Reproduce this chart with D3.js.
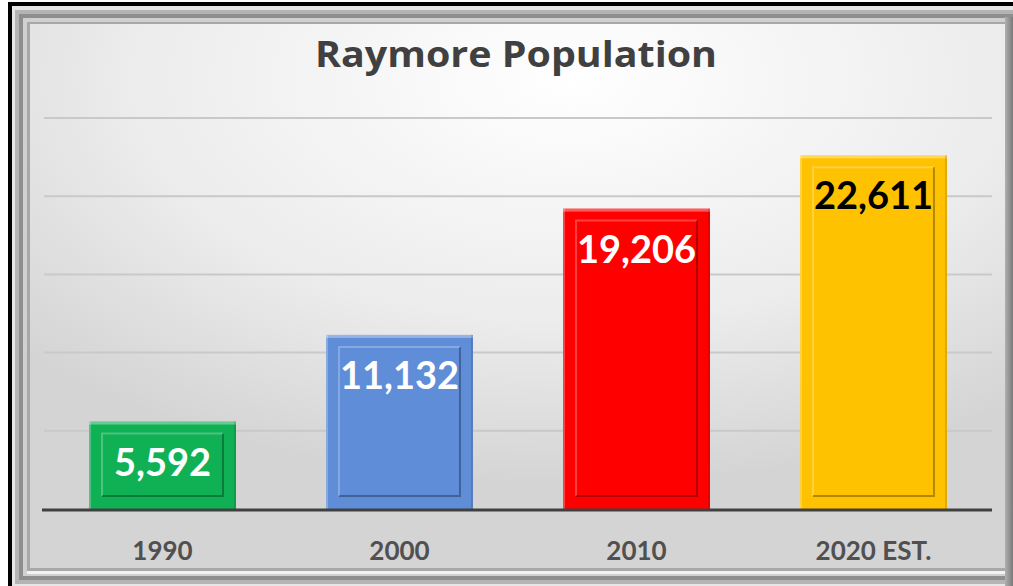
<!DOCTYPE html>
<html><head><meta charset="utf-8">
<script src="https://cdn.jsdelivr.net/npm/d3@7/dist/d3.min.js"></script>
<style>html,body{margin:0;padding:0;background:#fff;}svg{display:block;}</style>
</head><body>
<script>
const categories = ["1990", "2000", "2010", "2020 EST."];
const population = [5592, 11132, 19206, 22611];
const yTicks = [0, 5000, 10000, 15000, 20000, 25000];
const title = "Raymore Population";

const W = 1013, H = 586;
const barColors = ["#10b155", "#5f8dd8", "#ff0000", "#ffc200"];
const labelColors = ["#ffffff", "#ffffff", "#ffffff", "#000000"];
const font = "Lato, 'Open Sans', sans-serif";

const svg = d3.select("body").append("svg").attr("width", W).attr("height", H);
const defs = svg.append("defs");

const bg = defs.append("radialGradient").attr("id", "bg")
  .attr("cx", "55%").attr("cy", "10%").attr("r", "75%");
bg.append("stop").attr("offset", "0%").attr("stop-color", "#ffffff");
bg.append("stop").attr("offset", "60%").attr("stop-color", "#ececec");
bg.append("stop").attr("offset", "100%").attr("stop-color", "#d4d4d4");

const rg = defs.append("linearGradient").attr("id", "rightEdge").attr("x1", "0").attr("x2", "1");
rg.append("stop").attr("offset", "0%").attr("stop-color", "#b0b0b0");
rg.append("stop").attr("offset", "100%").attr("stop-color", "#7a7a7a");

svg.append("rect").attr("x", 8).attr("y", 2).attr("width", W - 8).attr("height", H - 2).attr("fill", "#000");
svg.append("rect").attr("x", 12).attr("y", 6).attr("width", W - 12).attr("height", H - 6).attr("fill", "#e6e6e6");
svg.append("rect").attr("x", 15).attr("y", 10).attr("width", W - 15).attr("height", H - 12).attr("fill", "#b4b4b4");
svg.append("rect").attr("x", 19).attr("y", 14).attr("width", W - 19).attr("height", H - 20).attr("fill", "#8e8e8e");
svg.append("rect").attr("x", 23).attr("y", 18).attr("width", W - 23).attr("height", H - 28).attr("fill", "#d0d0d0");
svg.append("rect").attr("x", 27).attr("y", 22).attr("width", W - 27).attr("height", H - 34).attr("fill", "#f2f2f2");
svg.append("rect").attr("x", 27).attr("y", 22).attr("width", W - 27).attr("height", H - 37).attr("fill", "#a8a8a8");
svg.append("rect").attr("x", 30).attr("y", 24).attr("width", W - 30).attr("height", H - 42).attr("fill", "url(#bg)");
svg.append("rect").attr("x", 1005).attr("y", 17).attr("width", 8).attr("height", H - 17).attr("fill", "url(#rightEdge)");

const margin = {left: 44, right: W - 992};
const x = d3.scaleBand().domain(categories).range([margin.left, W - margin.right]).paddingInner(0.38).paddingOuter(0.19);
const y = d3.scaleLinear().domain([0, 25000]).range([509, 118]);

svg.append("g").selectAll("line").data(yTicks.slice(1)).join("line")
  .attr("x1", margin.left).attr("x2", W - margin.right)
  .attr("y1", d => y(d)).attr("y2", d => y(d))
  .attr("stroke", "#c9c9c9").attr("stroke-width", 2);

const bars = svg.append("g").selectAll("g").data(population).join("g");
bars.append("rect")
  .attr("x", (d, i) => x(categories[i])).attr("y", d => y(d))
  .attr("width", x.bandwidth()).attr("height", d => y(0) - y(d))
  .attr("fill", (d, i) => barColors[i]);
bars.append("rect")
  .attr("x", (d, i) => x(categories[i])).attr("y", d => y(d))
  .attr("width", x.bandwidth()).attr("height", 3)
  .attr("fill", "#fff").attr("opacity", 0.35);
bars.append("rect")
  .attr("x", (d, i) => x(categories[i])).attr("y", d => y(d))
  .attr("width", 2).attr("height", d => y(0) - y(d))
  .attr("fill", "#fff").attr("opacity", 0.25);
bars.append("rect")
  .attr("x", (d, i) => x(categories[i]) + x.bandwidth() - 2).attr("y", d => y(d))
  .attr("width", 2).attr("height", d => y(0) - y(d))
  .attr("fill", "#000").attr("opacity", 0.12);
const inset = 13;
bars.append("path")
  .attr("d", (d, i) => {
    const x0 = x(categories[i]) + inset, x1 = x(categories[i]) + x.bandwidth() - inset;
    const y0 = y(d) + inset - 1, y1 = y(0) - inset;
    return `M${x0},${y1}L${x0},${y0}L${x1},${y0}`;
  })
  .attr("fill", "none").attr("stroke", "#fff").attr("stroke-opacity", 0.25).attr("stroke-width", 2);
bars.append("path")
  .attr("d", (d, i) => {
    const x0 = x(categories[i]) + inset, x1 = x(categories[i]) + x.bandwidth() - inset;
    const y0 = y(d) + inset - 1, y1 = y(0) - inset;
    return `M${x1},${y0}L${x1},${y1}L${x0},${y1}`;
  })
  .attr("fill", "none").attr("stroke", "#000").attr("stroke-opacity", 0.3).attr("stroke-width", 2);

bars.append("text")
  .attr("x", (d, i) => x(categories[i]) + x.bandwidth() / 2)
  .attr("y", d => y(d) + 54)
  .attr("text-anchor", "middle")
  .attr("font-family", font).attr("font-weight", 700).attr("font-size", 38)
  .attr("fill", (d, i) => labelColors[i])
  .text(d => d3.format(",")(d));

svg.append("line").attr("x1", 42).attr("x2", W - margin.right)
  .attr("y1", y(0) + 1).attr("y2", y(0) + 1)
  .attr("stroke", "#404040").attr("stroke-width", 3);

const xAxis = svg.append("g").attr("transform", `translate(0,${y(0)})`)
  .call(d3.axisBottom(x).tickSize(0).tickPadding(0));
xAxis.select(".domain").remove();
xAxis.selectAll("text")
  .attr("dy", 0).attr("y", 51)
  .attr("font-family", font).attr("font-weight", 700).attr("font-size", 26)
  .attr("fill", "#505050");

svg.append("text").attr("x", 516).attr("y", 67).attr("text-anchor", "middle")
  .attr("font-family", "'Open Sans', sans-serif").attr("font-weight", 700).attr("font-size", 35)
  .attr("textLength", 402).attr("lengthAdjust", "spacingAndGlyphs")
  .attr("fill", "#404040").text(title);
</script>
</body></html>
